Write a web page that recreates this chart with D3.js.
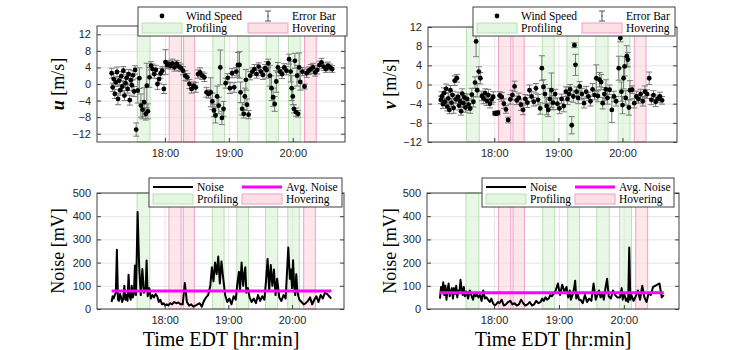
<!DOCTYPE html>
<html>
<head>
<meta charset="utf-8">
<script src="https://cdn.jsdelivr.net/npm/d3@7"></script>
<style>
body { margin: 0; background: #fff; }
svg { display: block; }
.tick text { font-family: "Liberation Sans", Arial, sans-serif; font-size: 11px; fill: #262626; }
.grid line { stroke: #e4e4e4; }
.grid path, .ax path { display: none; }
.ax line { stroke: #404040; }
.lbl { font-family: "Liberation Serif", "Times New Roman", serif; fill: #000; }
</style>
</head>
<body>
<div id="chart"></div>
<script>
// times in minutes after 17:00
const times = [10,11,12,13,14,15,16,17,18,19,20,21,22,23,24,25,26,27,28,29,30,31,32,33,
  34.5,36,37.5,39,40.5,42,43,44,45.5,
  47,48.5,50,51.5,53,54.5,56,57.5,59,60.5,
  62,63.5,65,67,69,71,73,75,
  77,79,81,83,85,87,89,91,93,95,97,99,101,
  103,104.5,106,107.5,109,110.5,112,113.5,115,
  117,119,121,123,125,127,
  128.5,130,131,132.5,134,135,136,137,138.5,
  140,142,144,146,148,150,152,154,
  155.5,157,158.5,160,161.5,163,164.5,166,
  168,170,172,174,
  176.5,178,179,180,181,182,183,184,185,186,187,
  189,191,193,195,197,199,201,203,205,207,209,211,213,215,217];

const uVals = [2.6,-0.8,1.2,-2.4,0.4,2.9,-3.6,0.8,-1.5,1.9,-0.6,3.2,-2.8,0.2,1.5,-1.2,2.4,-3.9,0.9,-0.3,2.1,-1.8,3.4,-11,
  -1.6,1.4,-5.2,-6.2,-4.4,-7.2,-0.4,-6.6,1.6,
  4.4,3.6,2.4,3.4,0.0,1.2,2.6,3.2,-1.2,5.3,
  4.6,4.8,4.4,5.0,4.0,4.9,4.2,3.9,
  3.2,2.0,1.6,0.0,-1.2,-0.4,-0.8,2.4,2.8,2.0,1.6,-2.0,-2.4,
  -2.0,-4.2,-6.4,-7.6,-3.0,-5.2,4.0,-8.2,-6.0,
  0.2,1.5,-1.0,2.6,-0.8,3.0,
  4.6,4.6,-2.0,-6.0,-7.2,-3.0,1.0,-5.0,-7.4,
  2.0,3.0,3.6,2.4,4.2,3.0,2.2,3.8,
  3.4,5.0,2.0,-1.0,-3.2,-4.8,0.6,4.0,
  3.0,2.4,4.0,3.2,
  6.0,3.0,-1.0,-3.0,-6.0,5.6,-6.8,2.0,-7.2,4.0,0.5,
  3.0,-0.6,2.6,3.2,3.6,4.0,2.8,3.4,4.6,5.2,4.2,3.6,4.4,4.0,3.6];

const uErr = [1.2,1.0,1.3,1.1,1.0,1.2,1.4,1.0,1.2,1.1,1.3,1.0,1.2,1.1,1.3,1.0,1.1,1.2,1.0,1.3,1.1,1.2,1.0,1.6,
  3.0,2.5,2.8,2.2,3.5,1.5,5.4,1.8,2.4,
  1.0,1.2,1.0,1.1,1.3,1.0,1.2,1.0,1.1,3.0,
  0.8,0.9,0.8,1.0,0.9,0.8,1.0,0.9,
  1.0,1.2,0.9,1.1,1.0,0.9,1.2,1.0,1.1,0.9,1.0,1.2,1.0,
  3.5,2.0,1.5,1.8,2.5,2.0,4.2,1.6,1.8,
  1.2,1.0,1.3,1.1,1.2,1.0,
  3.0,3.2,2.5,1.5,1.0,2.0,2.5,1.4,1.0,
  1.0,0.9,1.1,1.0,0.9,1.0,1.1,0.9,
  2.0,1.0,2.5,3.0,2.2,1.8,2.6,1.2,
  1.0,1.1,0.9,1.0,
  1.2,2.5,3.0,2.0,1.0,1.8,1.0,2.5,0.8,3.5,2.0,
  1.0,0.6,1.0,0.9,1.1,1.0,0.9,1.0,0.9,1.0,0.9,0.8,0.9,0.8,0.8];

const vVals = [-3.2,-2.5,-4.1,-1.8,-3.6,-0.9,-4.6,-2.9,-5.3,-1.2,-3.8,-2.2,-4.9,0.8,-3.1,1.3,-2.6,-4.4,-3.5,-5.6,-1.9,-3.9,-2.7,-4.8,
  -3.0,-4.2,-5.0,-2.1,-3.6,0.4,9.0,-1.2,2.7,
  1.3,-2.4,-2.9,-1.8,-3.4,-2.2,-4.0,-3.1,-2.6,-6.0,
  -6.1,-5.9,-2.3,-2.6,-4.0,-5.2,-7.4,-3.1,
  -2.2,-0.4,-3.3,-2.8,-4.2,-5.3,-3.0,-3.8,-1.2,-2.5,-3.6,-0.8,-3.2,
  -5.0,3.4,-0.5,-2.0,-4.5,-5.3,-3.0,-1.2,-3.8,
  -2.0,-4.0,-5.0,-3.0,-4.5,-1.5,
  -3.0,-2.0,-1.0,-8.5,-2.5,8.2,4.1,-1.5,-2.8,
  -0.4,-2.0,-3.9,-1.5,-2.5,-3.5,-1.0,-2.2,
  1.3,-2.4,1.0,0.5,-3.9,-2.0,-1.0,-2.8,
  -1.1,-5.3,-2.5,-3.5,
  3.4,9.7,-1.5,-4.3,1.3,3.8,-2.8,5.9,5.2,-4.8,-1.2,
  -1.1,-3.9,-2.5,-3.0,-2.0,-3.5,-1.5,-2.0,1.3,-3.2,-2.2,-3.6,-3.0,-2.5,-3.3];

const vErr = [0.8,1.0,0.9,1.1,0.8,1.0,0.9,1.2,0.8,1.0,0.9,0.8,1.1,1.0,0.9,0.8,1.0,0.9,1.1,0.8,1.0,0.9,0.8,1.0,
  1.0,1.2,1.0,1.3,1.1,1.2,3.2,1.4,1.0,
  1.2,1.0,1.1,0.9,1.0,1.2,0.9,1.0,1.1,0.4,
  0.4,0.4,0.8,0.9,1.0,0.8,0.6,1.0,
  1.0,1.1,0.9,1.0,1.2,1.0,0.9,1.0,1.1,1.0,0.9,1.0,1.1,
  1.2,2.6,1.5,2.0,1.8,1.4,2.2,3.6,1.5,
  1.0,1.2,1.1,1.0,1.2,1.0,
  1.2,1.5,1.0,1.8,1.2,0.5,2.2,1.0,1.2,
  1.0,1.2,1.0,1.1,0.9,1.0,1.2,1.0,
  2.8,1.2,1.5,1.6,1.2,1.4,2.0,1.3,
  1.0,2.6,1.1,1.0,
  2.5,0.8,2.0,1.8,2.2,2.0,1.5,2.2,1.5,1.6,2.0,
  0.8,1.0,1.1,0.9,1.0,1.0,1.2,0.9,1.3,1.0,0.9,1.0,0.8,0.9,0.8];

const noiseLeft = [30,55,45,60,70,255,40,35,65,50,30,45,100,40,60,35,148,55,40,100,50,65,187,60,
  418,180,60,172,70,80,209,55,90,
  45,60,50,65,55,30,40,20,25,15,
  20,15,25,20,30,25,28,20,
  20,112,30,15,20,10,15,20,25,10,35,50,60,
  100,180,120,200,150,226,110,205,140,
  60,30,45,20,55,40,
  110,160,80,200,100,150,180,70,90,
  50,30,45,25,60,35,55,40,
  120,216,80,190,100,170,60,130,
  50,35,60,45,
  265,130,170,90,210,100,60,150,80,55,40,
  30,20,25,35,50,20,40,55,30,60,45,70,65,55,45];

const noiseRight = [45,95,70,115,60,100,40,80,110,55,75,90,45,90,65,100,50,80,70,126,85,60,95,55,
  75,45,80,60,40,70,55,65,50,
  60,35,80,45,50,40,30,45,25,15,
  20,30,25,40,15,20,30,35,
  20,25,15,20,40,25,15,20,30,15,20,35,25,
  30,45,35,50,40,45,60,55,65,
  80,110,60,105,75,95,
  50,80,40,60,90,122,45,70,40,
  40,25,60,30,45,35,110,40,
  60,80,50,70,40,90,130,55,
  45,80,60,50,
  50,90,40,70,55,35,45,30,265,40,60,
  35,55,80,40,100,50,30,70,60,95,100,105,110,50,60];

const avgNoise = [78, 70];

const profiling = [[34,46],[105,116],[128,139],[155,166.5],[176,187]];
const hovering = [[64,75.5],[77.5,88],[191,202]];

const xTicks = [60, 120, 180];
const xTickLabels = ["18:00", "19:00", "20:00"];
const windTicks = [-12, -8, -4, 0, 4, 8, 12];
const noiseTicks = [0, 100, 200, 300, 400, 500];

const svg = d3.select("#chart").append("svg")
    .attr("width", 750)
    .attr("height", 350);

function makePanel(box, xDomain, yDomain, yTicks) {
  const g = svg.append("g");
  const x = d3.scaleLinear().domain(xDomain).range([box.left, box.right]);
  const y = d3.scaleLinear().domain(yDomain).range([box.bottom, box.top]);
  const w = box.right - box.left, h = box.bottom - box.top;

  // grid
  g.append("g").attr("class", "grid")
    .attr("transform", "translate(" + box.left + ",0)")
    .call(d3.axisLeft(y).tickValues(yTicks).tickSize(-w).tickFormat(""));
  g.append("g").attr("class", "grid")
    .attr("transform", "translate(0," + box.bottom + ")")
    .call(d3.axisBottom(x).tickValues(xTicks).tickSize(-h).tickFormat(""));

  // shaded phases
  g.selectAll(null).data(profiling).enter().append("rect")
    .attr("x", d => x(d[0])).attr("width", d => x(d[1]) - x(d[0]))
    .attr("y", box.top).attr("height", h)
    .attr("fill", "#d9f2d6").attr("fill-opacity", 0.6)
    .attr("stroke", "#b9e2b2").attr("stroke-width", 1);
  g.selectAll(null).data(hovering).enter().append("rect")
    .attr("x", d => x(d[0])).attr("width", d => x(d[1]) - x(d[0]))
    .attr("y", box.top).attr("height", h)
    .attr("fill", "#fcd7dd").attr("fill-opacity", 0.6)
    .attr("stroke", "#eda0c8").attr("stroke-width", 1);

  return {g, x, y, box};
}

function drawFrame(p, yTicks) {
  const {g, x, y, box} = p;
  g.append("rect")
    .attr("x", box.left).attr("y", box.top)
    .attr("width", box.right - box.left).attr("height", box.bottom - box.top)
    .attr("fill", "none").attr("stroke", "#404040").attr("stroke-width", 1);
  g.append("g").attr("class", "ax")
    .attr("transform", "translate(" + box.left + ",0)")
    .call(d3.axisLeft(y).tickValues(yTicks).tickSize(-4).tickPadding(6));
  g.append("g").attr("class", "ax")
    .attr("transform", "translate(" + box.right + ",0)")
    .call(d3.axisRight(y).tickValues(yTicks).tickSize(-4).tickFormat(""));
  g.append("g").attr("class", "ax")
    .attr("transform", "translate(0," + box.bottom + ")")
    .call(d3.axisBottom(x).tickValues(xTicks).tickSize(-4).tickPadding(7)
      .tickFormat((d, i) => xTickLabels[i]));
  g.append("g").attr("class", "ax")
    .attr("transform", "translate(0," + box.top + ")")
    .call(d3.axisTop(x).tickValues(xTicks).tickSize(-4).tickFormat(""));
}

function drawWind(p, vals, errs) {
  const {g, x, y} = p;
  const pts = times.map((t, i) => ({t: t, v: vals[i], e: errs[i]}));
  const eb = g.append("g").attr("stroke", "#7a7a7a").attr("stroke-width", 1);
  pts.forEach(d => {
    const xx = x(d.t), y1 = y(d.v - d.e), y2 = y(d.v + d.e);
    eb.append("line").attr("x1", xx).attr("x2", xx).attr("y1", y1).attr("y2", y2);
    eb.append("line").attr("x1", xx - 3).attr("x2", xx + 3).attr("y1", y1).attr("y2", y1);
    eb.append("line").attr("x1", xx - 3).attr("x2", xx + 3).attr("y1", y2).attr("y2", y2);
  });
  g.selectAll(null).data(pts).enter().append("circle")
    .attr("cx", d => x(d.t)).attr("cy", d => y(d.v)).attr("r", 2.4)
    .attr("fill", "#000");
}

function drawNoise(p, vals, avg) {
  const {g, x, y} = p;
  const line = d3.line().x(d => x(d[0])).y(d => y(d[1]));
  g.append("path")
    .datum(times.map((t, i) => [t, vals[i]]))
    .attr("d", line).attr("fill", "none")
    .attr("stroke", "#000").attr("stroke-width", 2).attr("stroke-linejoin", "round");
  g.append("path")
    .datum([[times[0], avg], [times[times.length - 1], avg]])
    .attr("d", line).attr("fill", "none")
    .attr("stroke", "#ff00ff").attr("stroke-width", 3);
}

function legend(left, top, width, col2, first) {
  const g = svg.append("g").attr("transform", "translate(" + left + "," + top + ")");
  g.append("rect").attr("width", width).attr("height", 29)
    .attr("fill", "#fff").attr("stroke", "#404040").attr("stroke-width", 1);
  const r1 = 9, r2 = 21;
  if (first === "wind") {
    g.append("circle").attr("cx", 24).attr("cy", r1).attr("r", 2.4).attr("fill", "#000");
    const ex = col2 + 20;
    g.append("line").attr("x1", ex).attr("x2", ex).attr("y1", r1 - 5).attr("y2", r1 + 5).attr("stroke", "#555");
    g.append("line").attr("x1", ex - 3).attr("x2", ex + 3).attr("y1", r1 - 5).attr("y2", r1 - 5).attr("stroke", "#555");
    g.append("line").attr("x1", ex - 3).attr("x2", ex + 3).attr("y1", r1 + 5).attr("y2", r1 + 5).attr("stroke", "#555");
    g.append("circle").attr("cx", ex).attr("cy", r1).attr("r", 0.8).attr("fill", "#555");
  } else {
    g.append("line").attr("x1", 4).attr("x2", 44).attr("y1", r1).attr("y2", r1)
      .attr("stroke", "#000").attr("stroke-width", 2);
    g.append("line").attr("x1", col2).attr("x2", col2 + 40).attr("y1", r1).attr("y2", r1)
      .attr("stroke", "#ff00ff").attr("stroke-width", 3);
  }
  g.append("rect").attr("x", 4).attr("y", r2 - 5).attr("width", 40).attr("height", 10)
    .attr("fill", "#e3f6e0").attr("stroke", "#b9e2b2");
  g.append("rect").attr("x", col2).attr("y", r2 - 5).attr("width", 40).attr("height", 10)
    .attr("fill", "#fde0e5").attr("stroke", "#eda0c8");
  const labels = first === "wind" ? ["Wind Speed", "Error Bar"] : ["Noise", "Avg. Noise"];
  g.append("text").attr("class", "lbl").attr("x", 48).attr("y", r1 + 4).style("font-size", "11.5px").text(labels[0]);
  g.append("text").attr("class", "lbl").attr("x", col2 + 44).attr("y", r1 + 4).style("font-size", "11.5px").text(labels[1]);
  g.append("text").attr("class", "lbl").attr("x", 48).attr("y", r2 + 4).style("font-size", "11.5px").text("Profiling");
  g.append("text").attr("class", "lbl").attr("x", col2 + 44).attr("y", r2 + 4).style("font-size", "11.5px").text("Hovering");
}

function yLabel(cx, cy, sym, rest) {
  const t = svg.append("text").attr("class", "lbl")
    .attr("transform", "translate(" + cx + "," + cy + ") rotate(-90)")
    .attr("text-anchor", "middle").style("font-size", "18px");
  if (sym) t.append("tspan").style("font-weight", "bold").style("font-style", "italic").text(sym + " ");
  t.append("tspan").text(rest);
}

const xLeft = [-3.75, 229], xRight = [-2, 231];

// u panel
const pu = makePanel({left: 97, right: 345, top: 26, bottom: 142}, xLeft, [-14, 14], windTicks);
drawWind(pu, uVals, uErr);
drawFrame(pu, windTicks);

// v panel
const pv = makePanel({left: 428, right: 677, top: 27, bottom: 142}, xRight, [-12, 12], windTicks);
drawWind(pv, vVals, vErr);
drawFrame(pv, windTicks);

// noise panels
const pn1 = makePanel({left: 97, right: 344, top: 193, bottom: 309}, xLeft, [0, 500], noiseTicks);
drawNoise(pn1, noiseLeft, avgNoise[0]);
drawFrame(pn1, noiseTicks);

const pn2 = makePanel({left: 427, right: 679, top: 193, bottom: 309}, xRight, [0, 500], noiseTicks);
drawNoise(pn2, noiseRight, avgNoise[1]);
drawFrame(pn2, noiseTicks);

legend(138, 7, 209, 110, "wind");
legend(473, 7, 202, 109, "wind");
legend(149, 178, 193, 93, "noise");
legend(482, 178, 192, 93, "noise");

yLabel(64, 84, "u", "[m/s]");
yLabel(396, 84, "v", "[m/s]");
yLabel(64, 251, null, "Noise [mV]");
yLabel(396, 251, null, "Noise [mV]");

svg.append("text").attr("class", "lbl").attr("x", 221).attr("y", 346)
  .attr("text-anchor", "middle").style("font-size", "20px").text("Time EDT [hr:min]");
svg.append("text").attr("class", "lbl").attr("x", 553).attr("y", 346)
  .attr("text-anchor", "middle").style("font-size", "20px").text("Time EDT [hr:min]");
</script>
</body>
</html>
